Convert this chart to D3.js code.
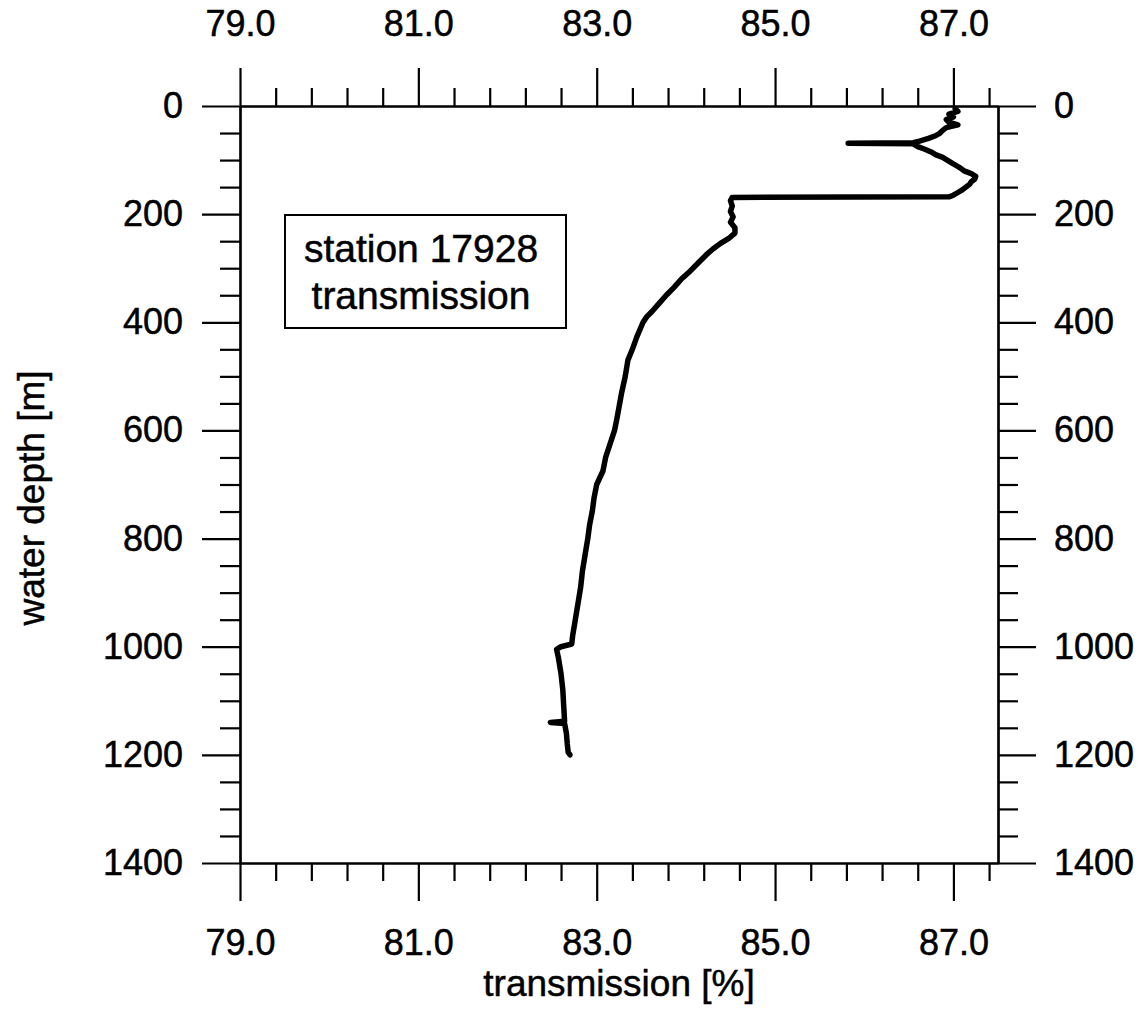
<!DOCTYPE html>
<html>
<head>
<meta charset="utf-8">
<script src="https://cdn.jsdelivr.net/npm/d3@7"></script>
<style>
  html, body { margin: 0; padding: 0; background: #fff; }
  svg { display: block; }
  text { font-family: "Liberation Sans", Arial, Helvetica, sans-serif; fill: #000; stroke: #000; stroke-width: 0.5px; }
</style>
</head>
<body>
<svg id="chart" width="1143" height="1009"></svg>
<script>
// CTD profile, station 17928: light transmission versus water depth
const depth = [
  5, 10, 15, 20, 25, 30, 35, 40, 45, 50, 55, 60, 65, 68, 69, 70, 75, 80, 85, 90,
  95, 100, 105, 110, 115, 120, 125, 130, 135, 140, 145, 150, 155, 160, 165, 168,
  169, 175, 185, 195, 205, 215, 225, 235, 245, 255, 265, 275, 290, 305, 320, 335,
  350, 365, 380, 390, 400, 427, 450, 470, 500, 530, 575, 600, 625, 650, 675, 700,
  725, 750, 775, 800, 830, 860, 890, 920, 950, 980, 995, 1000, 1005, 1020, 1050,
  1080, 1110, 1138, 1140, 1142, 1160, 1180, 1195, 1200
];
const transmission = [
  87.02, 87.05, 86.95, 87.00, 86.92, 86.95, 87.05, 86.92, 86.88, 86.85, 86.80, 86.72, 86.62, 86.55, 85.82, 86.55, 86.60, 86.68, 86.75, 86.80,
  86.88, 86.93, 86.98, 87.03, 87.08, 87.12, 87.20, 87.25, 87.24, 87.20, 87.18, 87.14, 87.10, 87.05, 87.00, 86.95,
  84.52, 84.50, 84.52, 84.50, 84.53, 84.50, 84.55, 84.55, 84.48, 84.38, 84.30, 84.23, 84.14, 84.05, 83.95, 83.87,
  83.78, 83.70, 83.62, 83.56, 83.52, 83.45, 83.40, 83.35, 83.32, 83.28, 83.23, 83.20, 83.15, 83.10, 83.07, 83.00,
  82.97, 82.95, 82.92, 82.90, 82.87, 82.84, 82.82, 82.79, 82.76, 82.73, 82.72, 82.60, 82.55, 82.57, 82.60,
  82.62, 82.63, 82.64, 82.48, 82.64, 82.66, 82.67, 82.68, 82.70
];

// axis ticks
const xMajorTicks = [79, 81, 83, 85, 87];
const xMinorTicks = [79.4, 79.8, 80.2, 80.6, 81.4, 81.8, 82.2, 82.6, 83.4, 83.8, 84.2, 84.6,
                     85.4, 85.8, 86.2, 86.6, 87.4];
const yMajorTicks = [0, 200, 400, 600, 800, 1000, 1200, 1400];
const yMinorTicks = [50, 100, 150, 250, 300, 350, 450, 500, 550, 650, 700, 750, 850, 900, 950,
                     1050, 1100, 1150, 1250, 1300, 1350];

const xTitle = "transmission [%]";
const yTitle = "water depth [m]";
const boxLines = ["station 17928", "transmission"];

const svg = d3.select("#chart");
const plotLeft = 240, plotRight = 998, plotTop = 106, plotBottom = 863;
const FS = 36;

const x = d3.scaleLinear().domain([79, 87.5]).range([plotLeft, plotRight]);
const y = d3.scaleLinear().domain([0, 1400]).range([plotTop, plotBottom]);

const fmtX = d3.format(".1f");
const majorLen = 38, minorLenX = 18, minorLenY = 20;

function styleAxis(g) {
  g.selectAll("path.domain").attr("stroke", "#000").attr("stroke-width", 2.2);
  g.selectAll(".tick line").attr("stroke", "#000").attr("stroke-width", 2.2);
  g.selectAll(".tick text").attr("font-size", FS).attr("font-family", "Liberation Sans, Arial, sans-serif").attr("fill", "#000");
}

// top axis
svg.append("g").attr("transform", `translate(0,${plotTop})`)
  .call(d3.axisTop(x).tickValues(xMinorTicks).tickSize(minorLenX).tickSizeOuter(0).tickFormat(""))
  .call(styleAxis);
svg.append("g").attr("transform", `translate(0,${plotTop})`)
  .call(d3.axisTop(x).tickValues(xMajorTicks).tickSize(majorLen).tickSizeOuter(0).tickPadding(32).tickFormat(fmtX))
  .call(styleAxis);

// bottom axis
svg.append("g").attr("transform", `translate(0,${plotBottom})`)
  .call(d3.axisBottom(x).tickValues(xMinorTicks).tickSize(minorLenX).tickSizeOuter(0).tickFormat(""))
  .call(styleAxis);
svg.append("g").attr("transform", `translate(0,${plotBottom})`)
  .call(d3.axisBottom(x).tickValues(xMajorTicks).tickSize(majorLen).tickSizeOuter(0).tickPadding(28).tickFormat(fmtX))
  .call(styleAxis);

// left axis
svg.append("g").attr("transform", `translate(${plotLeft},0)`)
  .call(d3.axisLeft(y).tickValues(yMinorTicks).tickSize(minorLenY).tickSizeOuter(0).tickFormat(""))
  .call(styleAxis);
svg.append("g").attr("transform", `translate(${plotLeft},0)`)
  .call(d3.axisLeft(y).tickValues(yMajorTicks).tickSize(majorLen).tickSizeOuter(0).tickPadding(19).tickFormat(d3.format("d")))
  .call(styleAxis);

// right axis
svg.append("g").attr("transform", `translate(${plotRight},0)`)
  .call(d3.axisRight(y).tickValues(yMinorTicks).tickSize(minorLenY).tickSizeOuter(0).tickFormat(""))
  .call(styleAxis);
svg.append("g").attr("transform", `translate(${plotRight},0)`)
  .call(d3.axisRight(y).tickValues(yMajorTicks).tickSize(majorLen).tickSizeOuter(0).tickPadding(18).tickFormat(d3.format("d")))
  .call(styleAxis);

// axis titles
svg.append("text")
  .attr("x", (plotLeft + plotRight) / 2).attr("y", 996)
  .attr("text-anchor", "middle").attr("font-size", 37)
  .text(xTitle);
svg.append("text")
  .attr("transform", `translate(44,498) rotate(-90)`)
  .attr("text-anchor", "middle").attr("font-size", 37)
  .text(yTitle);

// station label box
svg.append("rect")
  .attr("x", 285).attr("y", 215).attr("width", 281).attr("height", 113)
  .attr("fill", "#fff").attr("stroke", "#000").attr("stroke-width", 2);
svg.selectAll("text.box").data(boxLines).enter().append("text")
  .attr("class", "box")
  .attr("x", 421).attr("y", (d, i) => 262 + i * 47)
  .attr("text-anchor", "middle").attr("font-size", 39)
  .text(d => d);

// profile line
const pts = depth.map((d, i) => [transmission[i], d]);
const line = d3.line().x(p => x(p[0])).y(p => y(p[1]));
svg.append("path")
  .datum(pts)
  .attr("d", line)
  .attr("fill", "none")
  .attr("stroke", "#000")
  .attr("stroke-width", 5.5)
  .attr("stroke-linejoin", "round")
  .attr("stroke-linecap", "round");
</script>
</body>
</html>
